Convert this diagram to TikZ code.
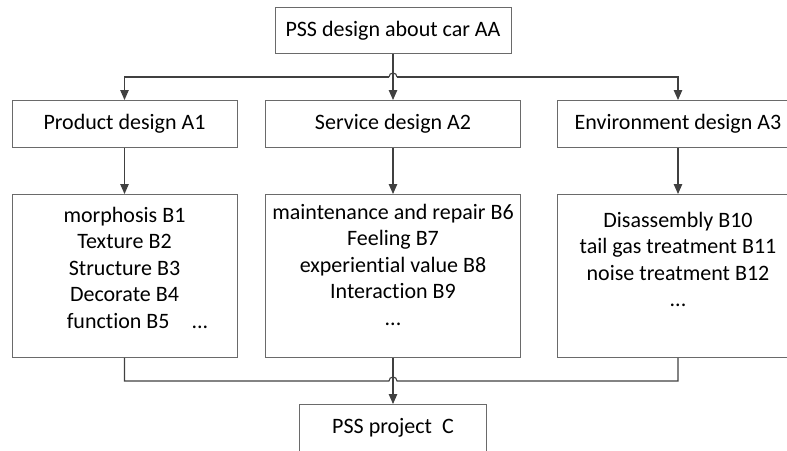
\documentclass[tikz,border=0pt]{standalone}
\usepackage{fontspec}
\setmainfont{Carlito}[Ligatures={NoCommon}]
\usepackage{xcolor}
\usetikzlibrary{positioning, arrows.meta, calc}
\definecolor{boxgray}{HTML}{6A6A6A}
\definecolor{linegray}{HTML}{404040}

\begin{document}
\begin{tikzpicture}[
  x=1pt, y=1pt,
  font=\fontsize{22}{26.5}\selectfont,
  box/.style={rectangle, draw=boxgray, line width=0.9pt, inner sep=0pt, anchor=north,
              minimum height=46pt, align=center},
  listb/.style={rectangle, draw=boxgray, line width=0.9pt, inner sep=0pt, anchor=north,
                minimum height=163pt},
  listt/.style={inner sep=0pt, align=center},
  ln/.style={draw=linegray, line width=1.1pt},
  arr/.style={ln, -{Triangle[length=10pt, width=8.5pt]}}]
\useasboundingbox (0,0) rectangle (787,-450);
\def\ca{124.5}\def\cb{393}\def\cc{678}
% --- top ---
\node[box, minimum width=236pt] (AA) at (\cb,-7) {PSS design about car AA};
% --- row 1: design parts ---
\node[box, minimum width=225pt, minimum height=47pt] (A1) at (\ca,-100) {Product design A1};
\node[box, minimum width=255pt, minimum height=47pt] (A2) at (\cb,-100) {Service design A2};
\node[box, minimum width=242pt, minimum height=47pt] (A3) at (\cc,-100) {Environment design A3};
% --- row 2: elements ---
\node[listb, minimum width=225pt] (B1) at (\ca,-194) {};
\node[listb, minimum width=255pt] (B2) at (\cb,-194) {};
\node[listb, minimum width=242pt] (B3) at (\cc,-194) {};
\node[listt, below=13pt of B1.north] (B1t)
  {morphosis B1\\ Texture B2\\ Structure B3\\ Decorate B4\\ \hspace*{26pt}function B5\quad ...};
\node[listt, below=10pt of B2.north] (B2t)
  {maintenance and repair B6\\ Feeling B7\\ experiential value B8\\ Interaction B9\\ ...};
\node[listt, below=18pt of B3.north] (B3t)
  {Disassembly B10\\ tail gas treatment B11\\ noise treatment B12\\ ...};
% --- result ---
\node[box, minimum width=187pt, minimum height=47pt] (C) at (\cb,-404) {PSS project\ \ C};
% arrows
\coordinate (J1) at ($(AA.south)!.5!(A2.north)$);
\coordinate (J2) at ($(B2.south)!.5!(C.north)$);
\draw[arr] (AA) -- (A2);
\draw[arr] ($(J1)+(-4pt,0)$) -| (A1);
\draw[arr] ($(J1)+(4pt,0)$) -| (A3);
\draw[ln] ($(J1)+(-4pt,0)$) arc[start angle=180, end angle=0, radius=4pt];
\foreach \s/\p in {A1/B1,A2/B2,A3/B3} \draw[arr] (\s) -- (\p);
\draw[ln] (B1.south) |- ($(J2)+(-4pt,0)$) arc[start angle=180, end angle=0, radius=4pt] -| (B3.south);
\draw[arr] (B2) -- (C);
\end{tikzpicture}
\end{document}
